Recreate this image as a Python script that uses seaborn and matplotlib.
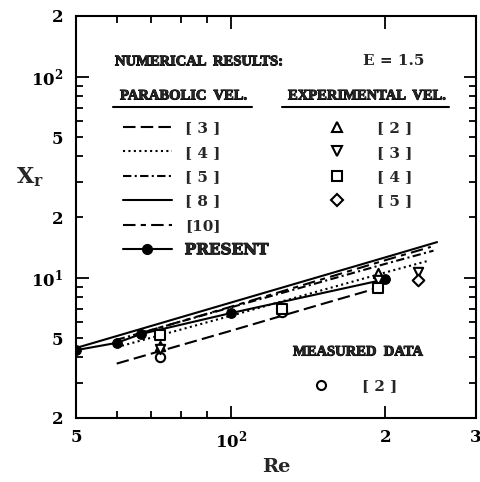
import matplotlib
matplotlib.use("Agg")
import matplotlib.pyplot as plt
import matplotlib.ticker as mticker
import matplotlib.patheffects as pe
from matplotlib.lines import Line2D
import seaborn as sns

# numerical results, parabolic inlet velocity
ref3_re = [60, 100, 150, 200]
ref3_xr = [3.73, 5.43, 7.36, 9.1]
ref4_re = [60, 100, 200, 242]
ref4_xr = [4.5, 6.45, 10.6, 12.1]
ref5_re = [60, 100, 200, 248]
ref5_xr = [4.9, 7.1, 11.7, 13.6]
ref8_re = [50, 100, 200, 252]
ref8_xr = [4.46, 7.5, 12.6, 15.0]
ref10_re = [67, 100, 200, 245]
ref10_xr = [5.3, 7.15, 12.2, 14.2]
present_re = [50, 60, 67, 100, 200]
present_xr = [4.35, 4.73, 5.24, 6.65, 9.8]

# numerical results, experimental inlet velocity
exp2_re = [72.7, 193]
exp2_xr = [4.55, 10.5]
exp3_re = [72.7, 193, 231]
exp3_xr = [4.4, 9.7, 10.6]
exp4_re = [72.7, 126, 193]
exp4_xr = [5.15, 7.0, 8.85]
exp5_re = [231]
exp5_xr = [9.75]

# measured data
meas2_re = [72.7, 126]
meas2_xr = [4.0, 6.75]

sns.set_theme(style="ticks")
plt.rcParams["font.family"] = ["DejaVu Serif"]
plt.rcParams["font.weight"] = "bold"
plt.rcParams["mathtext.fontset"] = "dejavuserif"

fig = plt.figure(figsize=(4.81, 4.82), dpi=100)
ax = fig.add_axes([76 / 481, 64 / 482, 400 / 481, 402 / 482])

lw = 1.5
line_styles = {
    "[3]": (0, (6, 2.5)),
    "[4]": (0, (1, 1.6)),
    "[5]": (0, (4, 1.6, 1, 1.6)),
    "[8]": "-",
    "[10]": (0, (6, 2.5, 2.5, 2.5)),
}
line_data = {
    "[3]": (ref3_re, ref3_xr),
    "[4]": (ref4_re, ref4_xr),
    "[5]": (ref5_re, ref5_xr),
    "[8]": (ref8_re, ref8_xr),
    "[10]": (ref10_re, ref10_xr),
}
for key, (x, y) in line_data.items():
    sns.lineplot(x=x, y=y, ax=ax, color="black", lw=lw,
                 linestyle=line_styles[key], legend=False)

sns.lineplot(x=present_re, y=present_xr, ax=ax, color="black", lw=lw,
             marker="o", markersize=7, markeredgecolor="black", legend=False)

marker_kw = dict(facecolors="white", edgecolor="black", linewidth=1.5, s=45,
                 zorder=5, legend=False)
sns.scatterplot(x=meas2_re, y=meas2_xr, marker="o", ax=ax, **marker_kw)
sns.scatterplot(x=exp2_re, y=exp2_xr, marker="^", ax=ax, **marker_kw)
sns.scatterplot(x=exp3_re, y=exp3_xr, marker="v", ax=ax, **marker_kw)
sns.scatterplot(x=exp4_re, y=exp4_xr, marker="s", ax=ax, **marker_kw)
sns.scatterplot(x=exp5_re, y=exp5_xr, marker="D", ax=ax,
                **{**marker_kw, "s": 35})

ax.set_xscale("log")
ax.set_yscale("log")
ax.set_xlim(50, 300)
ax.set_ylim(2, 200)

# x ticks
ax.xaxis.set_major_locator(mticker.FixedLocator([100, 200]))
ax.xaxis.set_major_formatter(mticker.FixedFormatter([r"$\mathbf{10^2}$", "2"]))
ax.xaxis.set_minor_locator(mticker.FixedLocator([50, 60, 70, 80, 90, 300]))
ax.xaxis.set_minor_formatter(mticker.FixedFormatter(["5", "", "", "", "", "3"]))
# y ticks
ax.yaxis.set_major_locator(mticker.FixedLocator([10, 100]))
ax.yaxis.set_major_formatter(mticker.FixedFormatter([r"$\mathbf{10^1}$", r"$\mathbf{10^2}$"]))
ymin = [2, 3, 4, 5, 6, 7, 8, 9, 20, 30, 40, 50, 60, 70, 80, 90, 200]
ylab = ["2", "", "", "5", "", "", "", "", "2", "", "", "5", "", "", "", "", "2"]
ax.yaxis.set_minor_locator(mticker.FixedLocator(ymin))
ax.yaxis.set_minor_formatter(mticker.FixedFormatter(ylab))

ax.tick_params(which="both", direction="in", top=True, right=True,
               width=1.3, labelsize=12, colors="black")
ax.tick_params(which="major", length=9)
ax.tick_params(which="minor", length=5)
ax.tick_params(axis="x", which="both", pad=8)
ax.tick_params(axis="y", which="both", pad=9)
for lab in ax.get_xticklabels(which="both") + ax.get_yticklabels(which="both"):
    lab.set_fontweight("bold")
for sp in ax.spines.values():
    sp.set_linewidth(1.5)
    sp.set_color("black")

ax.set_xlabel("Re", fontsize=14, fontweight="bold", labelpad=5)
ax.set_ylabel(r"$\mathbf{X_r}$", fontsize=16, rotation=0, va="center", ha="center")
ax.yaxis.set_label_coords(-0.115, 0.6)

# headers
heavy = [pe.withStroke(linewidth=0.7, foreground="black")]
hdr = dict(transform=ax.transAxes, fontsize=10.5, fontweight="bold", va="center",
           family=["Liberation Serif", "DejaVu Serif"], path_effects=heavy)
ax.text(0.0975, 0.886, "NUMERICAL  RESULTS:", **hdr)
ax.text(0.7175, 0.888, "E = 1.5", transform=ax.transAxes, fontsize=11,
        fontweight="bold", va="center")
ax.text(0.11, 0.801, "PARABOLIC  VEL.", **hdr)
ax.text(0.53, 0.801, "EXPERIMENTAL  VEL.", **hdr)
ax.text(0.5425, 0.164, "MEASURED  DATA", **hdr)
ax.plot([0.0925, 0.44], [0.774, 0.774], transform=ax.transAxes, color="black", lw=1.5)
ax.plot([0.515, 0.9325], [0.774, 0.774], transform=ax.transAxes, color="black", lw=1.5)

# legends
leg_kw = dict(frameon=False, borderpad=0, borderaxespad=0, labelspacing=0.68,
              prop={"family": "DejaVu Serif", "weight": "bold", "size": 11})
line_handles = [Line2D([], [], color="black", lw=lw, linestyle=line_styles[k]) for k in line_data]
line_handles.append(Line2D([], [], color="black", lw=lw, marker="o", markersize=7))
line_labels = ["[ 3 ]", "[ 4 ]", "[ 5 ]", "[ 8 ]", "[10]", "PRESENT"]
leg1 = ax.legend(line_handles, line_labels, loc="upper left",
                 bbox_to_anchor=(0.117, 0.738), handlelength=3.2, handletextpad=0.85,
                 **leg_kw)
leg1.get_texts()[-1].set_path_effects(heavy)
ax.add_artist(leg1)

mk = dict(color="black", linestyle="none", markerfacecolor="white",
          markeredgewidth=1.5, markersize=6.5)
exp_handles = [Line2D([], [], marker=m, **mk) for m in ["^", "v", "s", "D"]]
leg2 = ax.legend(exp_handles, ["[ 2 ]", "[ 3 ]", "[ 4 ]", "[ 5 ]"], loc="upper left",
                 bbox_to_anchor=(0.634, 0.738), handlelength=1.0, handletextpad=2.1,
                 **leg_kw)
ax.add_artist(leg2)

leg3 = ax.legend([Line2D([], [], marker="o", **mk)], ["[ 2 ]"], loc="upper left",
                 bbox_to_anchor=(0.593, 0.097), handlelength=1.0, handletextpad=2.2,
                 **leg_kw)

fig.savefig("out.png", dpi=100)
